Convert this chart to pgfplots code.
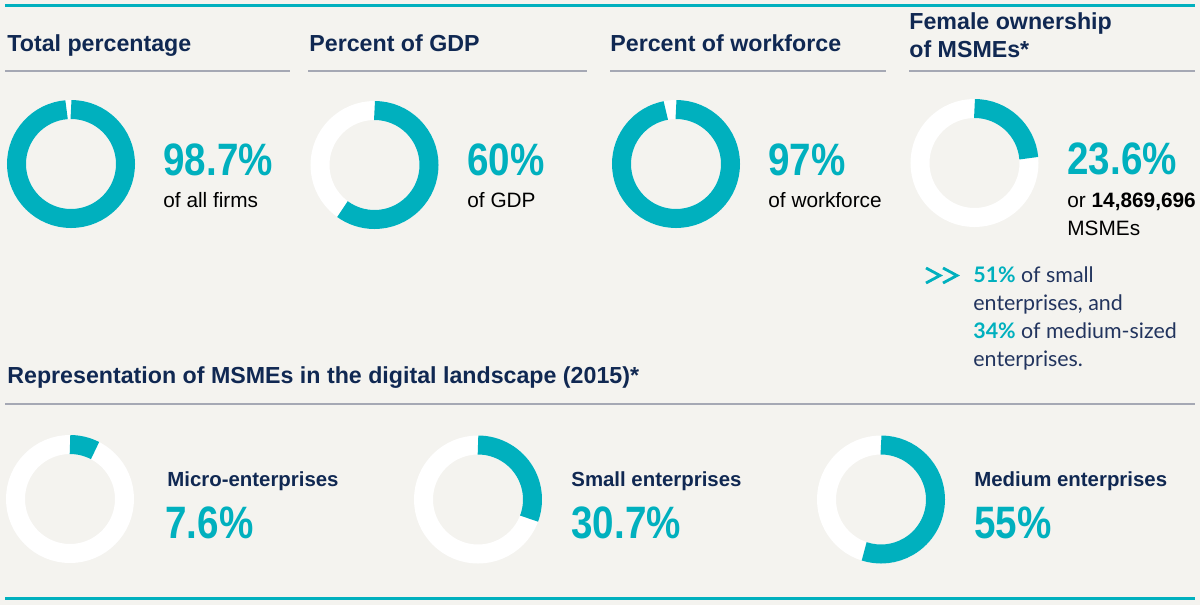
\documentclass[border=0pt]{standalone}
\usepackage{pgfplots}
\pgfplotsset{compat=1.18}
\usepackage{pgfplotstable}
\usepackage{fontspec}
\setmainfont{Liberation Sans}
\newfontfamily\numfont[FakeStretch=0.85]{Liberation Sans}
\newfontfamily\latofont{Lato}

\definecolor{bg}{RGB}{244,243,239}
\definecolor{tealc}{RGB}{0,176,190}
\definecolor{navy}{RGB}{16,40,82}
\definecolor{navyb}{RGB}{34,52,94}
\definecolor{rulec}{RGB}{165,168,180}

% donut centres (pixel coords) and share in percent
\pgfplotstableread{
x     y     v
71    164   98.7
374.5 165   60
676   164   97
974.5 163   23.6
70    499   7.6
478   499.5 30.7
881   499.5 55
}\donuts

\newcommand\head[1]{\fontsize{11.6pt}{14pt}\selectfont\bfseries\color{navy}#1}
\newcommand\bignum[1]{\numfont\fontsize{22.7pt}{26pt}\selectfont\bfseries\color{tealc}#1}
\newcommand\body[1]{\fontsize{10.4pt}{13pt}\selectfont\color{black}#1}
\newcommand\sub[1]{\fontsize{10.2pt}{13pt}\selectfont\bfseries\color{navy}#1}

\begin{document}
\begin{tikzpicture}
\begin{axis}[
  width=600pt, height=302.5pt, scale only axis,
  xmin=0, xmax=1200, ymin=0, ymax=605, y dir=reverse,
  hide axis, clip=false,
]
\fill[bg] (axis cs:0,0) rectangle (axis cs:1200,605);

% rules
\draw[tealc, line width=1.5pt] (axis cs:5,5) -- (axis cs:1195,5);
\draw[tealc, line width=1.5pt] (axis cs:5,598) -- (axis cs:1195,598);
\draw[rulec, line width=0.8pt] (axis cs:5,71) -- (axis cs:290,71);
\draw[rulec, line width=0.8pt] (axis cs:308,71) -- (axis cs:587,71);
\draw[rulec, line width=0.8pt] (axis cs:610,71) -- (axis cs:886,71);
\draw[rulec, line width=0.8pt] (axis cs:909,71) -- (axis cs:1195,71);
\draw[rulec, line width=0.8pt] (axis cs:5,404) -- (axis cs:1195,404);

% headings
\node[anchor=base west, inner sep=0pt] at (axis cs:7,51) {\head{Total percentage}};
\node[anchor=base west, inner sep=0pt] at (axis cs:309,51) {\head{Percent of GDP}};
\node[anchor=base west, inner sep=0pt] at (axis cs:610,51) {\head{Percent of workforce}};
\node[anchor=base west, inner sep=0pt] at (axis cs:909,29) {\head{Female ownership}};
\node[anchor=base west, inner sep=0pt] at (axis cs:909,57) {\head{of MSMEs*}};
\node[anchor=base west, inner sep=0pt] at (axis cs:7,383) {\head{Representation of MSMEs in the digital landscape (2015)*}};

% top row figures
\node[anchor=base west, inner sep=0pt] at (axis cs:163,175) {\bignum{98.7\%}};
\node[anchor=base west, inner sep=0pt] at (axis cs:163,207) {\body{of all firms}};
\node[anchor=base west, inner sep=0pt] at (axis cs:467,175) {\bignum{60\%}};
\node[anchor=base west, inner sep=0pt] at (axis cs:467,207) {\body{of GDP}};
\node[anchor=base west, inner sep=0pt] at (axis cs:768,175) {\bignum{97\%}};
\node[anchor=base west, inner sep=0pt] at (axis cs:768,207) {\body{of workforce}};
\node[anchor=base west, inner sep=0pt] at (axis cs:1067,174) {\bignum{23.6\%}};
\node[anchor=base west, inner sep=0pt] at (axis cs:1067,207) {\body{or \textbf{14,869,696}}};
\node[anchor=base west, inner sep=0pt] at (axis cs:1067,235) {\body{MSMEs}};

% bullet
\draw[tealc, line width=1.4pt] (axis cs:926,268) -- (axis cs:940,275.5) -- (axis cs:926,283);
\draw[tealc, line width=1.4pt] (axis cs:943,268) -- (axis cs:957,275.5) -- (axis cs:943,283);
\begin{scope}[every node/.style={anchor=base west, inner sep=0pt,
    font=\latofont\fontsize{10.7pt}{12pt}\selectfont, text=navyb}]
\node at (axis cs:973,282) {{\bfseries\color{tealc}51\%} of small};
\node at (axis cs:973,310) {enterprises, and};
\node at (axis cs:973,338) {{\bfseries\color{tealc}34\%} of medium-sized};
\node at (axis cs:973,366) {enterprises.};
\end{scope}

% bottom row figures
\node[anchor=base west, inner sep=0pt] at (axis cs:167,486) {\sub{Micro-enterprises}};
\node[anchor=base west, inner sep=0pt] at (axis cs:165,538) {\bignum{7.6\%}};
\node[anchor=base west, inner sep=0pt] at (axis cs:571,486) {\sub{Small enterprises}};
\node[anchor=base west, inner sep=0pt] at (axis cs:571,538) {\bignum{30.7\%}};
\node[anchor=base west, inner sep=0pt] at (axis cs:974,486) {\sub{Medium enterprises}};
\node[anchor=base west, inner sep=0pt] at (axis cs:974,538) {\bignum{55\%}};

% donuts: one marker per row, the arc sweeps clockwise from the top
\addplot[scatter, only marks, mark=*, mark size=0pt,
  point meta=explicit,
  scatter/@pre marker code/.code={%
    \pgfmathfloattofixed{\pgfplotspointmeta}\let\pct=\pgfmathresult
    \draw[white, line width=9.5pt] (0,0) circle[radius=27.25pt];
    \draw[tealc, line width=9.5pt] (90:27.25pt)
      arc[start angle=90, delta angle=-3.6*\pct, radius=27.25pt];
    \begin{scope}[opacity=0]},
  scatter/@post marker code/.code={\end{scope}},
] table[x=x, y=y, meta=v] {\donuts};
\end{axis}
\end{tikzpicture}
\end{document}
